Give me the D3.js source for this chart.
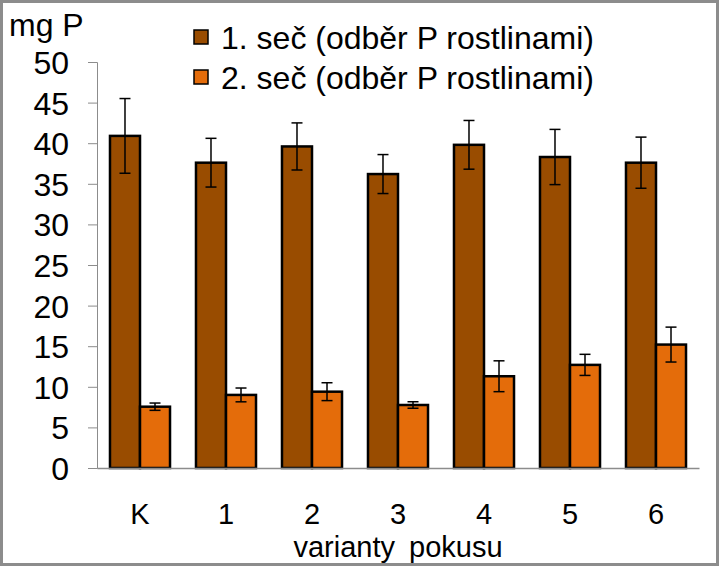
<!DOCTYPE html>
<html>
<head>
<meta charset="utf-8">
<script src="https://cdn.jsdelivr.net/npm/d3@7"></script>
<style>
  body { margin: 0; background: #fff; }
  svg text { font-family: "Liberation Sans", Arial, sans-serif; fill: #000; }
</style>
</head>
<body>
<div class="plot"></div>
<script>
/* chart data */
const categories = ["K", "1", "2", "3", "4", "5", "6"];
const seriesNames = ["1. seč (odběr P rostlinami)", "2. seč (odběr P rostlinami)"];
const cut1 = [40.9, 37.6, 39.6, 36.2, 39.8, 38.3, 37.6];
const cut1Err = [4.6, 3.0, 2.9, 2.4, 3.0, 3.4, 3.15];
const cut2 = [7.55, 9.0, 9.4, 7.76, 11.3, 12.7, 15.2];
const cut2Err = [0.45, 0.85, 1.1, 0.4, 1.9, 1.3, 2.15];
const yTicks = [0, 5, 10, 15, 20, 25, 30, 35, 40, 45, 50];

const colors = ["#994c00", "#e46c0a"];

const W = 719, H = 566;
const margin = {top: 62, right: 20, bottom: 98, left: 97};
const width = W - margin.left - margin.right;
const height = H - margin.top - margin.bottom;

const root = d3.select(".plot").append("svg")
  .attr("width", W)
  .attr("height", H);

/* outer frame */
root.append("rect")
  .attr("x", 1.5).attr("y", 1.5)
  .attr("width", W - 3).attr("height", H - 3)
  .attr("fill", "#fff")
  .attr("stroke", "#8c8c8c")
  .attr("stroke-width", 3);

const svg = root.append("g")
  .attr("transform", `translate(${margin.left},${margin.top})`);

/* scales */
const xScale = d3.scaleBand()
  .domain(categories)
  .range([0, width])
  .paddingInner(0.302)
  .paddingOuter(0.151);

const xSub = d3.scaleBand()
  .domain([0, 1])
  .range([0, xScale.bandwidth()]);

const yScale = d3.scaleLinear()
  .domain([0, 50])
  .range([height, 0]);

/* y axis */
const yAxis = d3.axisLeft(yScale)
  .tickValues(yTicks)
  .tickSize(9)
  .tickPadding(19);

svg.append("g")
  .attr("class", "yAxis")
  .call(yAxis)
  .call(g => g.select(".domain").attr("stroke", "#8c8c8c"))
  .call(g => g.selectAll(".tick line").attr("stroke", "#8c8c8c"))
  .call(g => g.selectAll(".tick text")
    .attr("font-size", 32)
    .attr("font-family", "Liberation Sans, Arial, sans-serif")
    .attr("dy", "0.36em"));

/* bars */
const series = [
  {values: cut1, errs: cut1Err},
  {values: cut2, errs: cut2Err}
];

series.forEach((s, i) => {
  const g = svg.append("g").attr("class", "series" + i);
  const rows = categories.map((c, j) => ({cat: c, v: s.values[j], e: s.errs[j]}));

  g.selectAll("rect")
    .data(rows)
    .join("rect")
      .attr("x", d => xScale(d.cat) + xSub(i))
      .attr("y", d => yScale(d.v))
      .attr("width", xSub.bandwidth())
      .attr("height", d => height - yScale(d.v))
      .attr("fill", colors[i])
      .attr("stroke", "#000")
      .attr("stroke-width", 2.5);

  /* error bars */
  const eb = g.selectAll(".err")
    .data(rows)
    .join("g")
      .attr("class", "err")
      .attr("transform", d => `translate(${xScale(d.cat) + xSub(i) + xSub.bandwidth() / 2},0)`)
      .attr("stroke", "#000")
      .attr("stroke-width", 1.5);
  eb.append("line")
    .attr("y1", d => yScale(d.v + d.e))
    .attr("y2", d => yScale(d.v - d.e));
  eb.append("line")
    .attr("x1", -5.5).attr("x2", 5.5)
    .attr("y1", d => yScale(d.v + d.e))
    .attr("y2", d => yScale(d.v + d.e));
  eb.append("line")
    .attr("x1", -5.5).attr("x2", 5.5)
    .attr("y1", d => yScale(d.v - d.e))
    .attr("y2", d => yScale(d.v - d.e));
});

/* x axis (no ticks) */
const xAxis = d3.axisBottom(xScale)
  .tickSize(0)
  .tickPadding(35);

svg.append("g")
  .attr("class", "xAxis")
  .attr("transform", `translate(0,${height})`)
  .call(xAxis)
  .call(g => g.select(".domain").attr("stroke", "#8c8c8c").attr("stroke-width", 1.5))
  .call(g => g.selectAll(".tick text")
    .attr("font-size", 29)
    .attr("font-family", "Liberation Sans, Arial, sans-serif"));

/* axis titles */
svg.append("text")
  .attr("x", width / 2)
  .attr("y", height + 89)
  .attr("text-anchor", "middle")
  .attr("font-size", 29)
  .attr("word-spacing", 6)
  .text("varianty pokusu");

root.append("text")
  .attr("x", 9)
  .attr("y", 36)
  .attr("font-size", 32)
  .text("mg P");

/* legend */
const legend = root.append("g")
  .attr("transform", "translate(194,0)");

const items = legend.selectAll(".item")
  .data(seriesNames)
  .join("g")
    .attr("class", "item")
    .attr("transform", (d, i) => `translate(0,${37 + i * 40})`);

items.append("rect")
  .attr("x", 0).attr("y", -7)
  .attr("width", 14).attr("height", 14)
  .attr("fill", (d, i) => colors[i])
  .attr("stroke", "#000")
  .attr("stroke-width", 1.5);

items.append("text")
  .attr("x", 27)
  .attr("dy", "0.36em")
  .attr("font-size", 32)
  .text(d => d);
</script>
</body>
</html>
